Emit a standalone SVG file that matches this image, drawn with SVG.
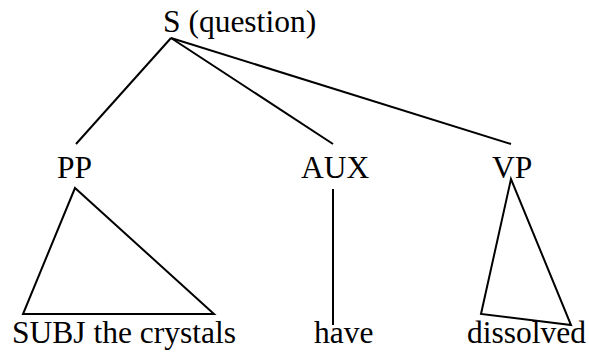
<svg xmlns="http://www.w3.org/2000/svg" width="589" height="356" viewBox="0 0 589 356">
<style>
text{font-family:"Liberation Serif","Times New Roman",serif;font-size:31.5px;fill:#000;}
.e{stroke:#000;stroke-width:2;fill:none;stroke-linejoin:miter;}
</style>
<rect width="589" height="356" fill="#fff"/>
<g id="connectors">
<line class="e" x1="171" y1="38" x2="76" y2="144"/>
<line class="e" x1="171" y1="38" x2="333" y2="144"/>
<line class="e" x1="171" y1="38" x2="511" y2="144"/>
<polygon class="e" points="75,188 23,314 214,314"/>
<line class="e" x1="333" y1="189" x2="333" y2="325"/>
<polygon class="e" points="511,179 481,314 571,325"/>
</g>
<g id="S"><text x="163" y="32">S (question)</text></g>
<g id="PP"><text x="57" y="178">PP</text></g>
<g id="AUX"><text x="301" y="178">AUX</text></g>
<g id="VP"><text x="492" y="178">VP</text></g>
<g id="subj"><text x="12" y="343">SUBJ the crystals</text></g>
<g id="have"><text x="314" y="343">have</text></g>
<g id="dissolved"><text x="467" y="343">dissolved</text></g>
</svg>
